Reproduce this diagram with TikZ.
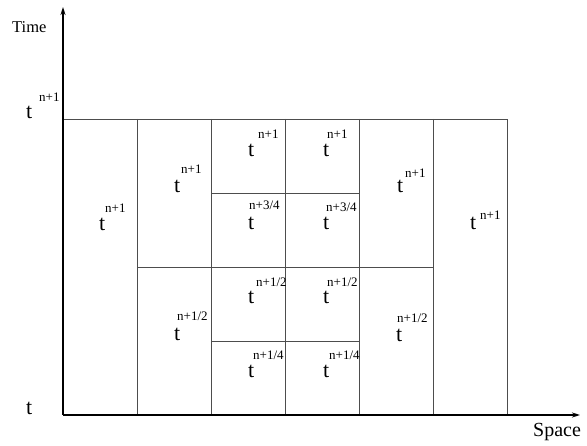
\documentclass[tikz,border=0pt]{standalone}
\usepackage{fontspec}
\setmainfont{Liberation Serif}
\usetikzlibrary{arrows.meta}
\definecolor{gridGray}{HTML}{4D4D4D}
\tikzset{
  >={Stealth[length=8pt,width=5pt]},
  axis/.style={->, line width=1.8pt, draw=black},
  cell/.style={line width=0.9pt, draw=gridGray},
  tlab/.style={anchor=base west, inner sep=0pt, font=\fontsize{22}{22}\selectfont},
  slab/.style={anchor=base west, inner sep=0pt, font=\fontsize{13}{13}\selectfont},
  axlab/.style={anchor=base west, inner sep=0pt},
}

\begin{document}
\begin{tikzpicture}[x=1pt, y=-1pt]
  \useasboundingbox (0,0) rectangle (587,446);

  % ---- Cells of the space-time grid ------------------------------------------
  \draw[cell] (63,119) -- (507,119) -- (507,415);
  \draw[cell] (137,119) -- (137,415);
  \draw[cell] (211,119) -- (211,415);
  \draw[cell] (285,119) -- (285,415);
  \draw[cell] (359,119) -- (359,415);
  \draw[cell] (433,119) -- (433,415);
  \draw[cell] (137,267) -- (433,267);
  \draw[cell] (211,193) -- (359,193);
  \draw[cell] (211,341) -- (359,341);

  % ---- Axes ----------------------------------------------------------------
  \coordinate (orig)  at (63,415);
  \coordinate (ttop)  at (63,7);
  \coordinate (sright) at (580,415);
  \draw[axis] (orig) -- (ttop);
  \draw[axis] (orig) -- (sright);

  \node[axlab, font=\fontsize{16.5}{16.5}\selectfont] (time)  at (12,33)  {Time};
  \node[axlab, font=\fontsize{20}{20}\selectfont] (space) at (533,437) {Space};
  \node[tlab] (tax1) at (26,119) {t};
  \node[slab] (sax1) at (39,102) {n+1};
  \node[tlab] (tax0) at (26,415) {t};

  % ---- Time levels in each cell ----------------------------------------------
  \node[tlab] (t1)  at (99,231)  {t};
  \node[slab] (s1)  at (105,213) {n+1};

  \node[tlab] (t2a) at (174,193) {t};
  \node[slab] (s2a) at (181,174) {n+1};
  \node[tlab] (t2b) at (174,341) {t};
  \node[slab] (s2b) at (177,321) {n+1/2};

  \node[tlab] (t3a) at (248,157) {t};
  \node[slab] (s3a) at (258,139) {n+1};
  \node[tlab] (t3b) at (248,230) {t};
  \node[slab] (s3b) at (249,210) {n+3/4};
  \node[tlab] (t3c) at (248,304) {t};
  \node[slab] (s3c) at (256,287) {n+1/2};
  \node[tlab] (t3d) at (248,378) {t};
  \node[slab] (s3d) at (253,360) {n+1/4};

  \node[tlab] (t4a) at (323,157) {t};
  \node[slab] (s4a) at (327,139) {n+1};
  \node[tlab] (t4b) at (323,230) {t};
  \node[slab] (s4b) at (326,212) {n+3/4};
  \node[tlab] (t4c) at (323,304) {t};
  \node[slab] (s4c) at (327,287) {n+1/2};
  \node[tlab] (t4d) at (323,378) {t};
  \node[slab] (s4d) at (329,360) {n+1/4};

  \node[tlab] (t5a) at (397,193) {t};
  \node[slab] (s5a) at (405,178) {n+1};
  \node[tlab] (t5b) at (396,342) {t};
  \node[slab] (s5b) at (397,323) {n+1/2};

  \node[tlab] (t6)  at (470,230) {t};
  \node[slab] (s6)  at (480,220) {n+1};

\end{tikzpicture}
\end{document}
